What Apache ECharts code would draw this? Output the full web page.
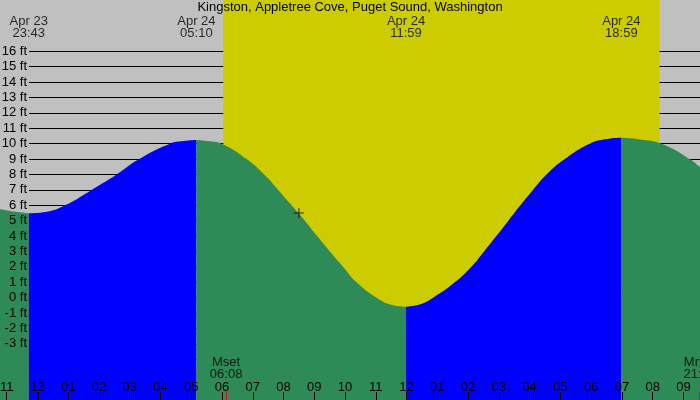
<!DOCTYPE html>
<html><head><meta charset="utf-8">
<script src="https://cdn.jsdelivr.net/npm/echarts@6/dist/echarts.min.js"></script>
<style>html,body{margin:0;padding:0;background:#c0c0c0}#c{width:700px;height:400px}</style>
</head><body><div id="c"></div>
<script>
// ---- data (hours relative to Apr 24 00:00, heights in feet) ----
const titleText = 'Kingston, Appletree Cove, Puget Sound, Washington';
const tideHours = [-1.22, -0.75, -0.283, 0.3, 0.894, 1.761, 2.574, 3.308, 4.306, 4.75, 5.167, 5.6, 5.986, 6.799, 7.37, 7.826, 8.261, 8.694, 9.09, 9.506, 9.938, 10.374, 11.024, 11.5, 11.983, 12.45, 12.863, 13.568, 14.1, 14.52, 14.92, 15.31, 15.70, 16.11, 16.55, 17.144, 17.956, 18.5, 18.983, 19.6, 20.286, 21.206, 21.54];
const tideFeet  = [5.75, 5.6, 5.48, 5.58, 6, 7, 8, 9, 10, 10.17, 10.24, 10.16, 10, 9, 8, 7, 6, 5, 4, 3, 2, 1, 0, -0.45, -0.58, -0.42, 0, 1, 2, 3, 4, 5, 6, 7, 8, 9, 10, 10.3, 10.39, 10.28, 10, 9, 8.44];
const extremeHours = [-0.283, 5.167, 11.983, 18.983];
const extremeDates = ['Apr 23', 'Apr 24', 'Apr 24', 'Apr 24'];
const extremeTimes = ['23:43', '05:10', '11:59', '18:59'];
const daylight = [6.04, 20.22];
const moonHours = [6.133, 21.53];
const moonNames = ['Mset', 'Mrise'];
const moonTimes = ['06:08', '21:32'];
const markerPoint = [8.5, 5.5];
const feetTicks = [-3, -2, -1, 0, 1, 2, 3, 4, 5, 6, 7, 8, 9, 10, 11, 12, 13, 14, 15, 16];

// ---- layout ----
const W = 700, H = 400;
const PX_HR = 30.76, MID_X = 37.45;     // x pixel of Apr 24 00:00
const PX_FT = 15.4, ZERO_Y = 297.7;     // y pixel of 0 ft
const XMIN = -MID_X / PX_HR, XMAX = (W - MID_X) / PX_HR;
const YMAX = ZERO_Y / PX_FT, YMIN = -(H - ZERO_Y) / PX_FT;
const XA = -2, XB = 22;
const gridLeft0 = -(XMIN - XA) * PX_HR, gridRight0 = -(XB - XMAX) * PX_HR;
const YA = -7, YB = 16;
const gridTop1 = ZERO_Y - YB * PX_FT, gridBottom1 = H - (ZERO_Y - YA * PX_FT);
const FONT = 'Liberation Sans, Arial, sans-serif';
const FS = 13;

// split curve into rising / falling segments at extremes
const segs = [];
let cur = [];
tideHours.forEach((h, i) => {
  cur.push([h, tideFeet[i]]);
  if (extremeHours.some(e => Math.abs(e - h) < 1e-6) && cur.length > 1) {
    segs.push(cur); cur = [[h, tideFeet[i]]];
  }
});
if (cur.length > 1) segs.push(cur);

const fillSeries = segs.map(s => ({
  type: 'line', xAxisIndex: 0, yAxisIndex: 0, data: s,
  showSymbol: false, symbol: 'none', smooth: 0.5,
  lineStyle: { width: 0 },
  areaStyle: { color: s[s.length - 1][1] > s[0][1] ? '#0000ff' : '#2e8b57', opacity: 1, origin: 'start' },
  z: 2, silent: true
}));

function hourLabel(v) {
  let h = ((Math.round(v) % 12) + 12) % 12;
  if (h === 0) h = 12;
  return (h < 10 ? '0' : '') + h;
}

const xBase = { gridIndex: 0, type: 'value', min: XA, max: XB, position: 'bottom',
  axisLine: { show: false, onZero: false }, splitLine: { show: false } };

const option = {
  animation: false,
  backgroundColor: '#c0c0c0',
  title: { text: titleText, left: 'center', top: 1, padding: 0,
    textStyle: { fontSize: FS, lineHeight: 13, fontWeight: 'normal', color: '#000', fontFamily: FONT } },
  grid: [
    { left: gridLeft0, right: gridRight0, top: 0, bottom: 0, show: false, containLabel: false, outerBoundsMode: 'none' },
    { left: 29, right: 0, top: gridTop1, bottom: gridBottom1, show: false, containLabel: false, outerBoundsMode: 'none' }
  ],
  xAxis: [
    Object.assign({}, xBase, { interval: 1, z: 10,
      axisTick: { show: true, inside: true, length: 8, lineStyle: { color: '#000', width: 1 } },
      axisLabel: { inside: true, margin: 6, fontSize: FS, lineHeight: 13, color: '#000', fontFamily: FONT, formatter: hourLabel,
        showMinLabel: true, showMaxLabel: true, hideOverlap: false } }),
    Object.assign({}, xBase, { z: 11, axisLabel: { show: false },
      axisTick: { show: true, inside: true, length: 8, customValues: [0], lineStyle: { color: '#000', width: 2 } } }),
    Object.assign({}, xBase, { z: 11, axisLabel: { show: false },
      axisTick: { show: true, inside: true, length: 8, customValues: moonHours, lineStyle: { color: '#ff0000', width: 1 } } }),
    { gridIndex: 1, type: 'value', min: 0, max: 1, show: false }
  ],
  yAxis: [
    { gridIndex: 0, type: 'value', min: YMIN, max: YMAX, show: false },
    { gridIndex: 1, type: 'value', position: 'left', min: YA, max: YB, interval: 1, z: 1,
      axisLine: { show: false, onZero: false }, axisTick: { show: false }, axisLabel: { show: false },
      splitLine: { show: true, lineStyle: { color: '#000', width: 1 } } },
    { gridIndex: 1, type: 'value', position: 'left', min: YA, max: YB, interval: 1, z: 10,
      axisLine: { show: false, onZero: false }, axisTick: { show: false }, splitLine: { show: false },
      axisLabel: { show: true, margin: 2, fontSize: FS, color: '#000', fontFamily: FONT,
        formatter: v => feetTicks.indexOf(v) >= 0 ? v + ' ft' : '' } }
  ],
  series: [
    { type: 'line', xAxisIndex: 0, yAxisIndex: 0, data: [], z: 0, silent: true,
      markArea: { silent: true, itemStyle: { color: '#cccc00' }, data: [[{ xAxis: daylight[0] }, { xAxis: daylight[1] }]] } },
    ...fillSeries,
    { type: 'scatter', xAxisIndex: 0, yAxisIndex: 0, clip: false, z: 10, silent: true,
      data: extremeHours.map(h => [h, YMAX - 0.001]), symbolSize: 1, itemStyle: { color: 'rgba(0,0,0,0)' },
      label: { show: true, position: 'bottom', distance: 15, fontSize: FS, lineHeight: 12, color: '#000', fontFamily: FONT, align: 'center',
        formatter: p => extremeDates[p.dataIndex] + '\n' + extremeTimes[p.dataIndex] } },
    { type: 'scatter', xAxisIndex: 0, yAxisIndex: 0, clip: false, z: 10, silent: true,
      data: moonHours.map(h => [h, YMIN + 0.001]), symbolSize: 1, itemStyle: { color: 'rgba(0,0,0,0)' },
      label: { show: true, position: 'top', distance: 19, fontSize: FS, lineHeight: 12, color: '#000', fontFamily: FONT, align: 'center',
        formatter: p => moonNames[p.dataIndex] + '\n' + moonTimes[p.dataIndex] } },
    { type: 'scatter', xAxisIndex: 0, yAxisIndex: 0, z: 10, silent: true, data: [markerPoint],
      symbol: 'path://M0,4.5h10v1h-10zM4.5,0h1v10h-1z', symbolSize: 10, itemStyle: { color: '#000' } }
  ]
};
const chart = echarts.init(document.getElementById('c'), null, { renderer: 'canvas' });
chart.setOption(option);
</script>
</body></html>
